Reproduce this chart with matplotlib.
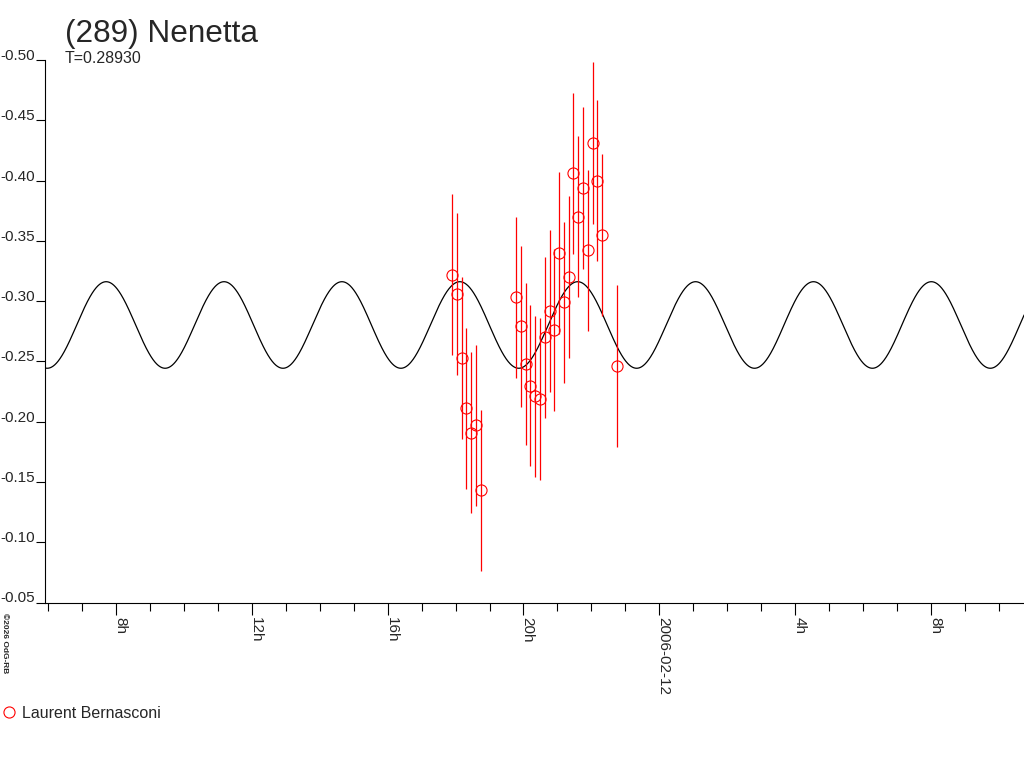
import matplotlib
matplotlib.use('Agg')
import matplotlib.pyplot as plt
import numpy as np
from matplotlib.lines import Line2D

plt.rcParams['font.family'] = ['Liberation Sans', 'DejaVu Sans']

# ---- text ----
title = "(289) Nenetta"
period_label = "T=0.28930"
observer = "Laurent Bernasconi"
credit = "©2026 OdG-RB"

# ---- data (hours UT since 2006-02-11 00:00, relative magnitude) ----
hours_ut = [17.89, 18.04, 18.19, 18.32, 18.45, 18.60, 18.74,
            19.77, 19.92, 20.07, 20.19, 20.33, 20.48, 20.63, 20.77, 20.90,
            21.04, 21.19, 21.33, 21.47, 21.62, 21.74, 21.89, 22.04, 22.17,
            22.30, 22.74]
mag = [-0.322, -0.306, -0.253, -0.211, -0.191, -0.197, -0.143,
       -0.303, -0.279, -0.248, -0.230, -0.221, -0.219, -0.270, -0.292, -0.276,
       -0.340, -0.299, -0.320, -0.406, -0.370, -0.394, -0.342, -0.431, -0.400,
       -0.355, -0.246]
mag_err = [0.067, 0.067, 0.067, 0.067, 0.067, 0.067, 0.067,
           0.067, 0.067, 0.067, 0.067, 0.067, 0.067, 0.067, 0.067, 0.067,
           0.067, 0.067, 0.067, 0.067, 0.067, 0.067, 0.067, 0.067, 0.067,
           0.067, 0.067]

# ---- model lightcurve parameters ----
period_days = 0.28930
model_center = -0.2802
model_amp = 0.0359
model_peak_hour = 18.125

# ---- axis ticks ----
x_major = [8, 12, 16, 20, 24, 28, 32]
x_major_labels = ['8h', '12h', '16h', '20h', '2006-02-12', '4h', '8h']
x_minor = list(range(6, 35))
y_ticks = [-0.50, -0.45, -0.40, -0.35, -0.30, -0.25, -0.20, -0.15, -0.10, -0.05]
y_labels = ['-0.50', '-0.45', '-0.40', '-0.35', '-0.30', '-0.25', '-0.20',
            '-0.15', '-0.10', '-0.05']

x_min, x_max = 5.909, 34.74
txt = '#262626'
red = '#ff0000'

fig = plt.figure(figsize=(10.24, 7.68), dpi=100)
W, H = 1024, 768
ax = fig.add_axes([45 / W, (H - 602.5) / H, (W - 45) / W, (602.5 - 60) / H])

t = np.linspace(x_min, x_max, 3000)
half_period_h = period_days * 24 / 2
model = model_center - model_amp * np.cos(2 * np.pi * (t - model_peak_hour) / half_period_h)
ax.plot(t, model, color='black', lw=0.9)

ax.errorbar(hours_ut, mag, yerr=mag_err, fmt='o', ms=8, mfc='none', mec=red,
            mew=0.8, ecolor=red, elinewidth=0.9, capsize=0, zorder=3)

ax.set_xlim(x_min, x_max)
ax.set_ylim(-0.05, -0.50)

for s in ['top', 'right']:
    ax.spines[s].set_visible(False)
for s in ['left', 'bottom']:
    ax.spines[s].set_color('black')
    ax.spines[s].set_linewidth(0.8)

ax.set_yticks(y_ticks, labels=y_labels)
ax.set_xticks(x_major, labels=x_major_labels)
ax.set_xticks(x_minor, minor=True)

ax.tick_params(axis='y', direction='out', length=6.5, width=0.8, pad=0.8,
               labelsize=11, labelcolor=txt, color='black')
ax.tick_params(axis='x', which='major', direction='out', length=8.6, width=0.8,
               pad=1.5, labelsize=11, labelcolor=txt, color='black')
ax.tick_params(axis='x', which='minor', direction='out', length=5.8, width=0.8,
               color='black')

for lab in ax.get_yticklabels():
    lab.set_va('baseline')
for lab in ax.get_xticklabels():
    lab.set_rotation(270)
    lab.set_ha('left')
    lab.set_va('baseline')
    lab.set_rotation_mode('anchor')

fig.text(65 / W, (H - 41.7) / H, title, fontsize=22.7, color=txt,
         ha='left', va='baseline')
fig.text(65 / W, (H - 63.3) / H, period_label, fontsize=11.5, color=txt,
         ha='left', va='baseline')
fig.text(0.5 / W, (H - 613) / H, credit, fontsize=6, color=txt, rotation=270,
         ha='left', va='top', fontweight='bold')

handle = Line2D([], [], marker='o', ls='none', ms=8, mfc='none', mec=red, mew=0.8)
fig.legend([handle], [observer], loc='center left',
           bbox_to_anchor=(2.9 / W, 1 - 713.3 / H), frameon=False,
           handlelength=0.8, handletextpad=0.4, borderpad=0, borderaxespad=0,
           fontsize=11.5, labelcolor=txt)

fig.savefig('out.png', dpi=100)
